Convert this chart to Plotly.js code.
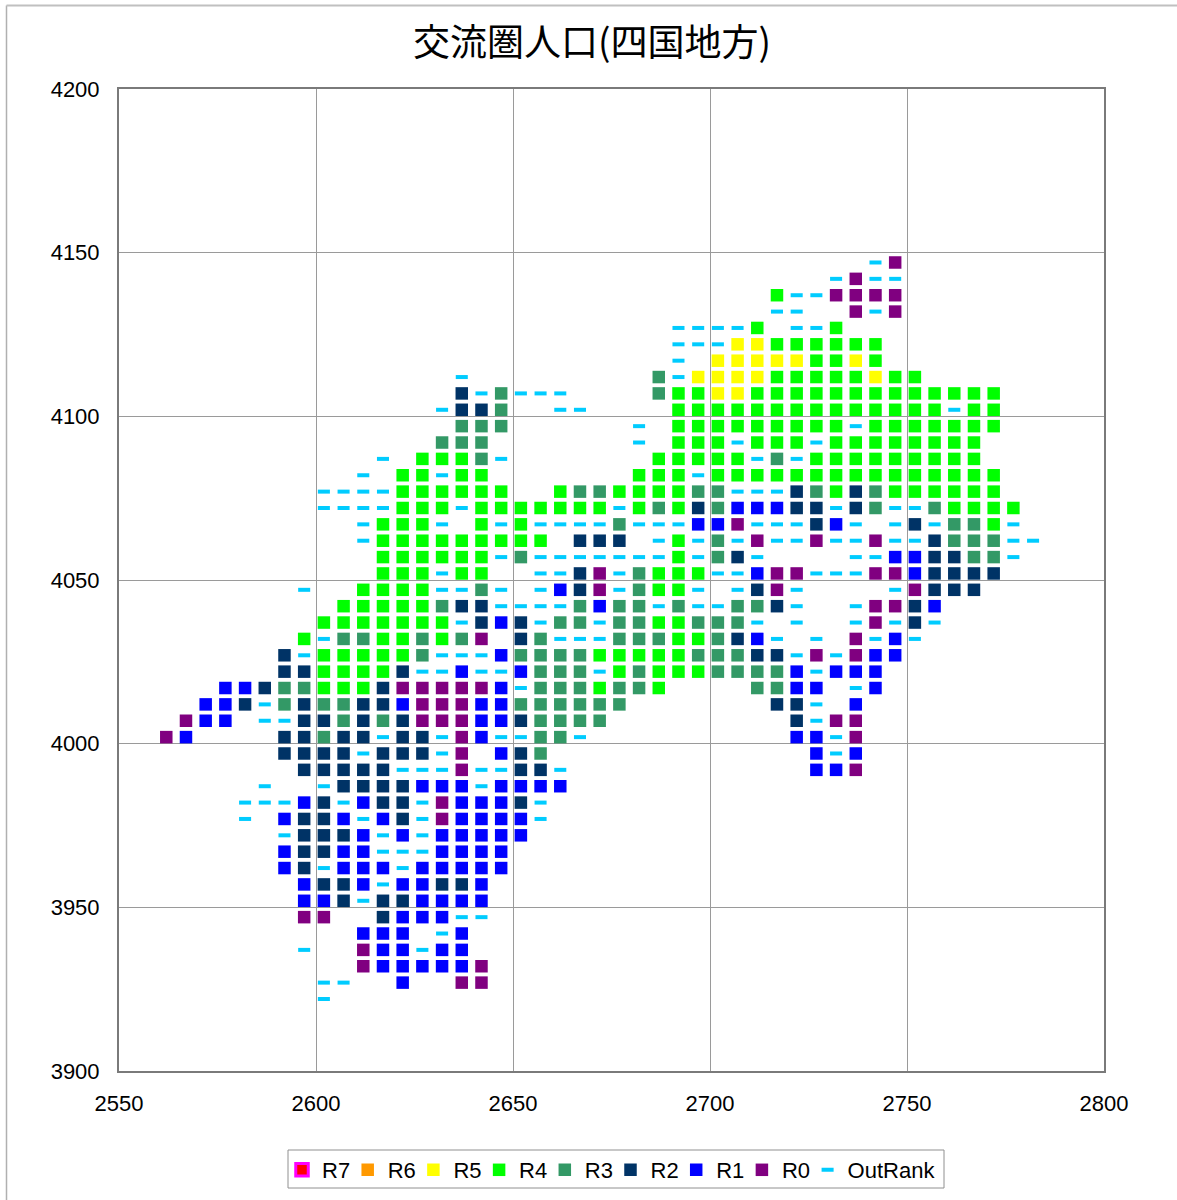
<!DOCTYPE html>
<html>
<head>
<meta charset="utf-8">
<script src="https://cdn.plot.ly/plotly-3.0.1.min.js"></script>
<style>html,body{margin:0;padding:0;background:#fff}#chart{width:1177px;height:1200px}</style>
</head>
<body>
<div id="chart"></div>
<script>
const chartTitle = "交流圏人口(四国地方)";
const seriesNames = ["R7","R6","R5","R4","R3","R2","R1","R0","OutRank"];
const rankCodes = ["7","6","5","4","3","2","1","0","o"];
const rowY = [4147,4142,4137,4132,4127,4122,4117,4112,4107,4102,4097,4092,4087,4082,4077,4072,4067,4062,4057,4052,4047,4042,4037,4032,4027,4022,4017,4012,4007,4002,3997,3992,3987,3982,3977,3972,3967,3962,3957,3952,3947,3942,3937,3932,3927,3922];
const rowStartX = [2742,2732,2717,2717,2692,2692,2692,2637,2637,2632,2637,2632,2617,2612,2602,2602,2612,2612,2617,2617,2597,2607,2602,2597,2592,2592,2577,2572,2567,2562,2592,2597,2587,2582,2582,2592,2592,2592,2597,2597,2597,2612,2597,2612,2602,2602];
const rowRanks = [
"o0",
"o0oo",
"4oo0000",
"oo..0o0",
"oooo4.oo4",
"ooo55444444",
"o.555554454",
"o.........3o555544444544",
"2o3ooo....344554444444444444",
"o223..oo....44444444444444o44",
"333......o.444444444o4444444",
"333.......o.444o444o44444444",
"o.4443o.......44444o3o444444444",
"o.44o44.......444o444444444444444",
"oooo444444..433444433ooo23423444444",
"oooo444o4444444o4342311122o23oo34444",
"o444o.4o4oooo3ooo110ooo21o.o2o334o",
"o444444444.222.o4o3o0oo0oo0oo2333oo",
"444444o3ooooooo4o32o....oo112233o",
"444o44..oo20o3444oo100ooo0012222",
"o..4444oo3o.o120o344o.o20o....o0222",
"44444322oooo3133o3oo332o..o0021",
"4444444o212o33o3344333o.o..o0o2o",
"4o33443430.23ooo33344321o.o.0o1o",
"2o444443ooo133334444433322o0o011",
"2244442oo1oo1333o4344433331o111",
"112334442000001o3334334....3311.o1",
"112o323322100011333333.......22o.1",
"011.oo2232320001123333.........2o00",
"01....22322o22o01oo33o..........11o0",
"2222o222o0.123.............1o1",
"22222ooo0oo22o............110",
"o..o2222111o1111",
"ooo12o122o01112o",
"o.1221o12o01111o",
"o2221o1o11111",
"12211ooo1111",
"12o111o11111",
"1221o11221",
"112o221111",
"00..2111oo",
"111.o1",
"o..011o11",
"0111110",
"oo..1..00",
"o"
];
const xTicks = [2550,2600,2650,2700,2750,2800];
const yTicks = [3900,3950,4000,4050,4100,4150,4200];
const seriesColors = ["#ff0000","#ff9900","#ffff00","#00ff00","#339966","#003366","#0000ff","#800080","#00ccff"];

const LEFT=119, RIGHT=1104, TOP=89, BOTTOM=1071, W=1177, H=1200;
const PW=RIGHT-LEFT, PH=BOTTOM-TOP;
const px = v => (v-LEFT)/PW;
const py = v => (BOTTOM-v)/PH;
const legendKey = i => i===0 ? "legend" : "legend"+(i+1);
const legendFont = {family:"Liberation Sans, Arial, sans-serif", size:22, color:"#000"};

const traces = seriesNames.map((name,i)=>{
  const xs=[], ys=[];
  rowRanks.forEach((row,r)=>{
    [...row].forEach((ch,k)=>{
      if(ch===rankCodes[i]){ xs.push(rowStartX[r]+5*k); ys.push(rowY[r]); }
    });
  });
  if(!xs.length){ xs.push(null); ys.push(null); }
  const isOut = name==="OutRank";
  return {
    type:"scatter", mode:"markers", name, legend:legendKey(i), x:xs, y:ys, hoverinfo:"x+y+name",
    marker: isOut
      ? {symbol:"line-ew", size:8.6, color:seriesColors[i], line:{color:seriesColors[i], width:4}}
      : {symbol:"square", size:12.5, color:seriesColors[i],
         line:{color:name==="R7"?"#ff00ff":seriesColors[i], width:name==="R7"?3:0}}
  };
});

const axisBase = {
  showgrid:true, gridcolor:"#9a9a9a", gridwidth:1,
  zeroline:false, showline:true, mirror:true, linecolor:"#7a7a7a", linewidth:2,
  ticks:"", tickfont:{family:"Liberation Sans, Arial, sans-serif", size:22, color:"#000"}
};

const layout = {
  width:W, height:H, paper_bgcolor:"#fff", plot_bgcolor:"#fff",
  margin:{l:LEFT, r:W-RIGHT, t:TOP, b:H-BOTTOM, pad:0, autoexpand:false},
  title:{text:chartTitle, xref:"paper", yref:"container", x:px(592), xanchor:"center",
         y:1-43/H, yanchor:"middle", font:{family:"Noto Sans CJK JP", size:37, color:"#000"}},
  xaxis:Object.assign({}, axisBase, {range:[2550,2800], tickmode:"array", tickvals:xTicks, ticktext:xTicks.map(String), ticklabelstandoff:12}),
  yaxis:Object.assign({}, axisBase, {range:[3900,4200], tickmode:"array", tickvals:yTicks, ticktext:yTicks.map(String), ticklabelstandoff:13}),
  showlegend:true,
  shapes:[
    {type:"line", xref:"paper", yref:"paper", x0:px(6.5), x1:px(6.5), y0:py(1200), y1:py(5.5), line:{color:"#b0b0b0", width:1.5}},
    {type:"line", xref:"paper", yref:"paper", x0:px(6.5), x1:px(1177), y0:py(5.5), y1:py(5.5), line:{color:"#c0c0c0", width:2}},
    {type:"rect", xref:"paper", yref:"paper", x0:px(288), x1:px(944), y0:py(1188), y1:py(1150), line:{color:"#909090", width:1}}
  ]
};
seriesNames.forEach((n,i)=>{
  layout[legendKey(i)] = {
    orientation:"h", x:px(282+65.7*i), xanchor:"left", y:py(1149), yanchor:"top",
    bgcolor:"rgba(0,0,0,0)", borderwidth:0, font:legendFont, itemwidth:30
  };
});

Plotly.newPlot("chart", traces, layout, {displayModeBar:false});
</script>
</body>
</html>
